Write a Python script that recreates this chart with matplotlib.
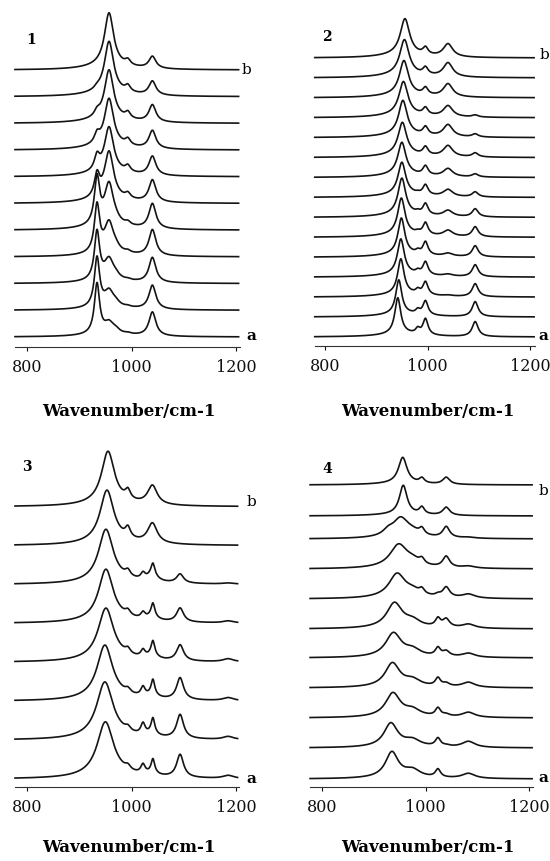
import numpy as np
import matplotlib.pyplot as plt

W, H = 550, 862

# ---------------- data: stacked spectra, row order = trace b (top) ... trace a (bottom)
# each band: (centre cm-1, half width cm-1, heights per trace); heights in arbitrary units

# panel 1: 11 spectra
p1_a934 = [0, 2, 5, 9, 14, 22, 46, 47, 48, 49, 50]
p1_b957 = [53, 51, 49, 47, 45, 47, 41, 30, 20, 15, 10]
p1_e970 = [0, 0, 0, 0, 0, 0, 2, 3, 3, 3, 3]
p1_c993 = [5, 6, 6, 6, 6, 5, 3, 2, 1, 1, 1]
p1_d1040 = [12, 14, 17, 18, 19, 22, 25, 26, 25, 24, 24]
p1_broad = [4, 4, 4, 4, 4, 4, 4, 3, 3, 3, 3]

# panel 2: 15 spectra
p2_main_pos = [956, 955, 954, 953, 952, 951, 950, 950, 950, 949, 949, 948, 948, 944, 942]
p2_main_wid = [11, 11, 10.5, 10.5, 10, 10, 9.5, 9, 9, 8.5, 8, 8, 7.5, 7, 7]
p2_main = [36, 35, 34, 33, 34, 32, 32, 32, 36, 36, 36, 35, 35, 34, 36]
p2_f981 = [0, 0, 0, 0, 0, 0, 0, 1, 2, 2, 3, 3, 4, 4, 5]
p2_c996 = [7, 7, 7, 7, 8, 8, 9, 10, 11, 12, 13, 13, 13, 14, 16]
p2_d1040 = [13, 14, 13, 11, 12, 11, 8, 7, 6, 6, 3, 2, 1, 0, 0]
p2_e1093 = [0, 0, 0, 2, 3, 4, 3, 5, 8, 10, 11, 12, 13, 15, 15]
p2_broad = [3] * 15

# panel 3: 8 spectra
p3_main_pos = [955, 953, 951, 951, 951, 949, 949, 950]
p3_main_wid = [15, 16, 17, 17, 18, 18, 19, 19]
p3_main = [52, 52, 52, 51, 51, 53, 55, 54]
p3_c993 = [9, 10, 6, 5, 5, 4, 4, 4]
p3_g1022 = [0, 0, 6, 6, 7, 9, 11, 9]
p3_d1040_broad = [19, 20, 8, 5, 5, 4, 4, 3]
p3_d1041_sharp = [0, 0, 10, 12, 13, 14, 14, 13]
p3_e1093 = [0, 0, 9, 14, 16, 22, 24, 23]
p3_h1185 = [0, 0, 1, 2, 3, 3, 3, 3]
p3_broad = [3] * 8

# panel 4: 11 spectra
p4_main_pos = [956, 957, 952, 948, 945, 940, 938, 936, 937, 933, 935]
p4_main_wid = [10, 9, 18, 20, 19, 18, 18, 17, 17, 16, 15]
p4_main = [26, 29, 18, 22, 23, 24, 23, 23, 23, 23, 25]
p4_l928 = [0, 0, 5, 0, 0, 0, 0, 0, 0, 0, 0]
p4_s975 = [0, 0, 4, 5, 5, 6, 6, 6, 6, 6, 7]
p4_c993 = [5, 7, 6, 5, 5, 0, 0, 0, 0, 0, 0]
p4_g1024 = [0, 0, 0, 0, 2, 8, 8, 8, 8, 8, 8]
p4_d1040 = [7, 8, 11, 11, 10, 8, 5, 3, 2, 1, 0]
p4_e1083 = [0, 0, 1, 2, 4, 4, 4, 5, 5, 6, 5]
p4_broad = [1.5] * 11

tick_values = [800, 1000, 1200]
tick_labels = ["800", "1000", "1200"]
panel_names = ["1", "2", "3", "4"]
xlabel = "Wavenumber/cm-1"

bands1 = [(934, 6, p1_a934), (957, 10.5, p1_b957), (970, 8, p1_e970),
          (993, 6, p1_c993), (1040, 8, p1_d1040), (955, 50, p1_broad)]
bands2 = [(p2_main_pos, p2_main_wid, p2_main), (981, 5, p2_f981), (996, 6, p2_c996),
          (1040, 11, p2_d1040), (1093, 7, p2_e1093), (950, 50, p2_broad)]
bands3 = [(p3_main_pos, p3_main_wid, p3_main), (993, 6, p3_c993), (1022, 5, p3_g1022),
          (1040, 11, p3_d1040_broad), (1041, 4, p3_d1041_sharp), (1093, 8, p3_e1093),
          (1185, 12, p3_h1185), (960, 60, p3_broad)]
bands4 = [(p4_main_pos, p4_main_wid, p4_main), (928, 12, p4_l928), (975, 18, p4_s975),
          (993, 6, p4_c993), (1024, 6, p4_g1024), (1040, 8, p4_d1040),
          (1083, 15, p4_e1083), (950, 60, p4_broad)]


def pick(v, i):
    return v[i] if isinstance(v, (list, tuple)) else v


def spectrum(x, bands, i):
    y = np.zeros_like(x)
    for c, w, h in bands:
        c, w, h = pick(c, i), pick(w, i), h[i]
        y += h * w ** 2 / ((x - c) ** 2 + w ** 2)
    return y


def fx(px):
    return px / W


def fy(py):
    return 1 - py / H


# layout in pixels of the 550x862 page
# (bands, px of 800, px of 1200, xlim, spine y, top y, trace offsets bottom->top)
n1, n2, n3, n4 = len(p1_a934), len(p2_main), len(p3_main), len(p4_main)
panels = [
    (bands1, 27, 236, (777, 1207), 348, 2, [10 + 26.7 * k for k in range(n1)]),
    (bands2, 325, 530, (780, 1210), 347, 2, [9 + 19.93 * k for k in range(n2)]),
    (bands3, 27, 236, (777, 1205), 788, 430, [8 + 38.9 * k for k in range(n3)]),
    (bands4, 322, 529, (777, 1208), 788, 430, [8, 39, 69, 99, 129, 158, 188, 218, 248, 271, 302]),
]

fig = plt.figure(figsize=(W / 100, H / 100), dpi=100)
fig.patch.set_facecolor("white")

ink = "#141414"
for bands, p800, p1200, xlim, spine, top, offs in panels:
    sc = (p1200 - p800) / 400.0
    left = p800 + (xlim[0] - 800) * sc
    right = p800 + (xlim[1] - 800) * sc
    ax = fig.add_axes([fx(left), fy(spine), (right - left) / W, (spine - top) / H])
    ax.set_xlim(*xlim)
    ax.set_ylim(0, spine - top)
    x = np.linspace(xlim[0], xlim[1] - 2, 900)
    n = len(offs)
    for i in range(n):
        base = offs[n - 1 - i]
        ax.plot(x, base + spectrum(x, bands, i), color=ink, lw=1.2, clip_on=False)
    for s in ["top", "left", "right"]:
        ax.spines[s].set_visible(False)
    ax.spines["bottom"].set_color("#333333")
    ax.spines["bottom"].set_linewidth(0.8)
    ax.set_yticks([])
    ax.set_xticks(tick_values)
    ax.set_xticklabels(tick_labels, family="DejaVu Serif", fontsize=11.5)
    ax.tick_params(axis="x", direction="out", length=3, width=0.8, pad=5, colors="#111111")
    ax.patch.set_alpha(0)

# panel numbers
for s, (px, py) in zip(panel_names, [(31, 40), (327, 37), (27, 467), (327, 469)]):
    fig.text(fx(px), fy(py), s, family="DejaVu Serif", weight="bold", fontsize=10,
             ha="center", va="center")

# trace labels
for px, py in [(246, 70), (544, 55), (251, 502), (543, 491)]:
    fig.text(fx(px), fy(py), "b", family="DejaVu Serif", fontsize=11, ha="center", va="center")
for px, py in [(251, 336), (543, 336), (251, 779), (543, 778)]:
    fig.text(fx(px), fy(py), "a", family="DejaVu Serif", weight="bold", fontsize=11,
             ha="center", va="center")

# axis titles
for px, py in [(129, 412), (428, 412), (129, 848), (428, 848)]:
    fig.text(fx(px), fy(py), xlabel, family="DejaVu Serif", weight="bold", fontsize=12,
             ha="center", va="center")

fig.savefig("out.png", dpi=100, facecolor="white")
